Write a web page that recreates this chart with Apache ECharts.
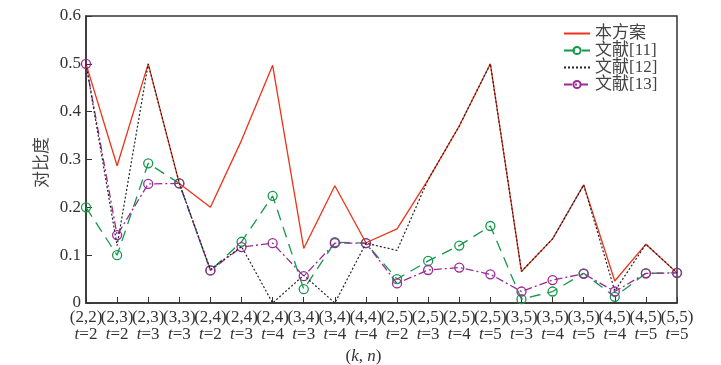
<!DOCTYPE html>
<html><head><meta charset="utf-8">
<script src="https://cdn.jsdelivr.net/npm/echarts@6/dist/echarts.min.js"></script>
<style>html,body{margin:0;padding:0;background:#fff}#c{width:721px;height:365px}</style>
</head><body><div id="c"></div>
<script>
const knLabels = ['(2,2)','(2,3)','(2,3)','(3,3)','(2,4)','(2,4)','(2,4)','(3,4)','(3,4)','(4,4)','(2,5)','(2,5)','(2,5)','(2,5)','(3,5)','(3,5)','(3,5)','(4,5)','(4,5)','(5,5)'];
const tLabels = ['2','2','3','3','2','3','4','3','4','4','2','3','4','5','3','4','5','4','5','5'];
const seriesNames = ['本方案','文献[11]','文献[12]','文献[13]'];
const ours = [0.5,0.287,0.5,0.25,0.2,0.34,0.497,0.114,0.245,0.126,0.155,0.258,0.37,0.5,0.066,0.134,0.247,0.046,0.123,0.063];
const ref11 = [0.2,0.1,0.292,0.25,0.068,0.128,0.224,0.029,0.127,0.125,0.05,0.088,0.12,0.161,0.008,0.024,0.062,0.013,0.062,0.063];
const ref12 = [0.5,0.12,0.5,0.25,0.07,0.118,0.0,0.058,0.0,0.125,0.11,0.258,0.37,0.5,0.066,0.134,0.247,0.025,0.123,0.063];
const ref13 = [0.5,0.142,0.249,0.25,0.068,0.117,0.125,0.056,0.125,0.125,0.041,0.069,0.074,0.06,0.024,0.048,0.061,0.024,0.062,0.063];

const categories = knLabels.map((k,i)=>k+'\n'+tLabels[i]);
const serif = 'Liberation Serif, Times New Roman, serif';
const cjk = 'Liberation Serif, Noto Sans CJK SC, serif';
const txt = '#333';
const cRed = '#ee3218', cGreen = '#15994a', cBlack = '#222', cPurple = '#9b2a98';

const chart = echarts.init(document.getElementById('c'));
chart.setOption({
  animation:false,
  grid:{left:86,right:44,top:16,bottom:62,show:true,borderColor:'#333',borderWidth:1.5,containLabel:false,outerBoundsMode:'none'},
  legend:{
    orient:'vertical', left:563, top:25, padding:0, itemGap:0, itemWidth:26, itemHeight:9,
    textStyle:{fontFamily:cjk,fontSize:17,color:'#444',lineHeight:17},
    data:[
      {name:seriesNames[0],itemStyle:{opacity:0}},
      {name:seriesNames[1]},
      {name:seriesNames[2],itemStyle:{opacity:0}},
      {name:seriesNames[3]}
    ]
  },
  xAxis:{
    type:'category', data:categories, boundaryGap:false,
    axisLine:{lineStyle:{color:'#333',width:1.5}},
    axisTick:{inside:true,length:6,lineStyle:{color:'#333'}},
    axisLabel:{interval:0,margin:6,
      formatter:(v)=>{const p=v.split('\n');return '{a|'+p[0]+'}\n{i|t}{a|='+p[1]+'}';},
      rich:{a:{fontFamily:serif,fontSize:17,color:txt,lineHeight:17},
            i:{fontFamily:serif,fontSize:17,fontStyle:'italic',color:txt,lineHeight:17}}},
    name:'({i|k}, {i|n})', nameLocation:'middle', nameGap:43,
    nameTextStyle:{fontFamily:serif,fontSize:17,color:txt,padding:[0,36,0,0],
      rich:{i:{fontFamily:serif,fontSize:17,fontStyle:'italic',color:txt}}}
  },
  yAxis:{
    type:'value', min:0, max:0.6, interval:0.1,
    axisLine:{show:true,lineStyle:{color:'#333',width:1.5}},
    axisTick:{show:true,inside:true,length:6,lineStyle:{color:'#333'}},
    splitLine:{show:false},
    axisLabel:{fontFamily:serif,fontSize:17,color:txt,margin:5},
    name:'对比度', nameLocation:'middle', nameGap:37, nameRotate:90,
    nameTextStyle:{fontFamily:'Noto Sans CJK SC',fontSize:17,color:'#444',padding:[0,0,0,-6]}
  },
  series:[
    {name:seriesNames[0],type:'line',data:ours,symbol:'none',
     lineStyle:{color:cRed,width:1.3},itemStyle:{color:cRed},z:3},
    {name:seriesNames[1],type:'line',data:ref11,symbol:'circle',symbolSize:9,
     lineStyle:{color:cGreen,width:1.3,type:[11,7]},
     itemStyle:{color:'rgba(255,255,255,0)',borderColor:cGreen,borderWidth:1.3},z:2},
    {name:seriesNames[2],type:'line',data:ref12,symbol:'none',
     lineStyle:{color:cBlack,width:1.2,type:[2,2]},itemStyle:{color:cBlack},z:4},
    {name:seriesNames[3],type:'line',data:ref13,symbol:'circle',symbolSize:9,
     lineStyle:{color:cPurple,width:1.3,type:[8,3,2,3]},
     itemStyle:{color:'rgba(255,255,255,0)',borderColor:cPurple,borderWidth:1.3},z:2}
  ]
});
</script></body></html>
